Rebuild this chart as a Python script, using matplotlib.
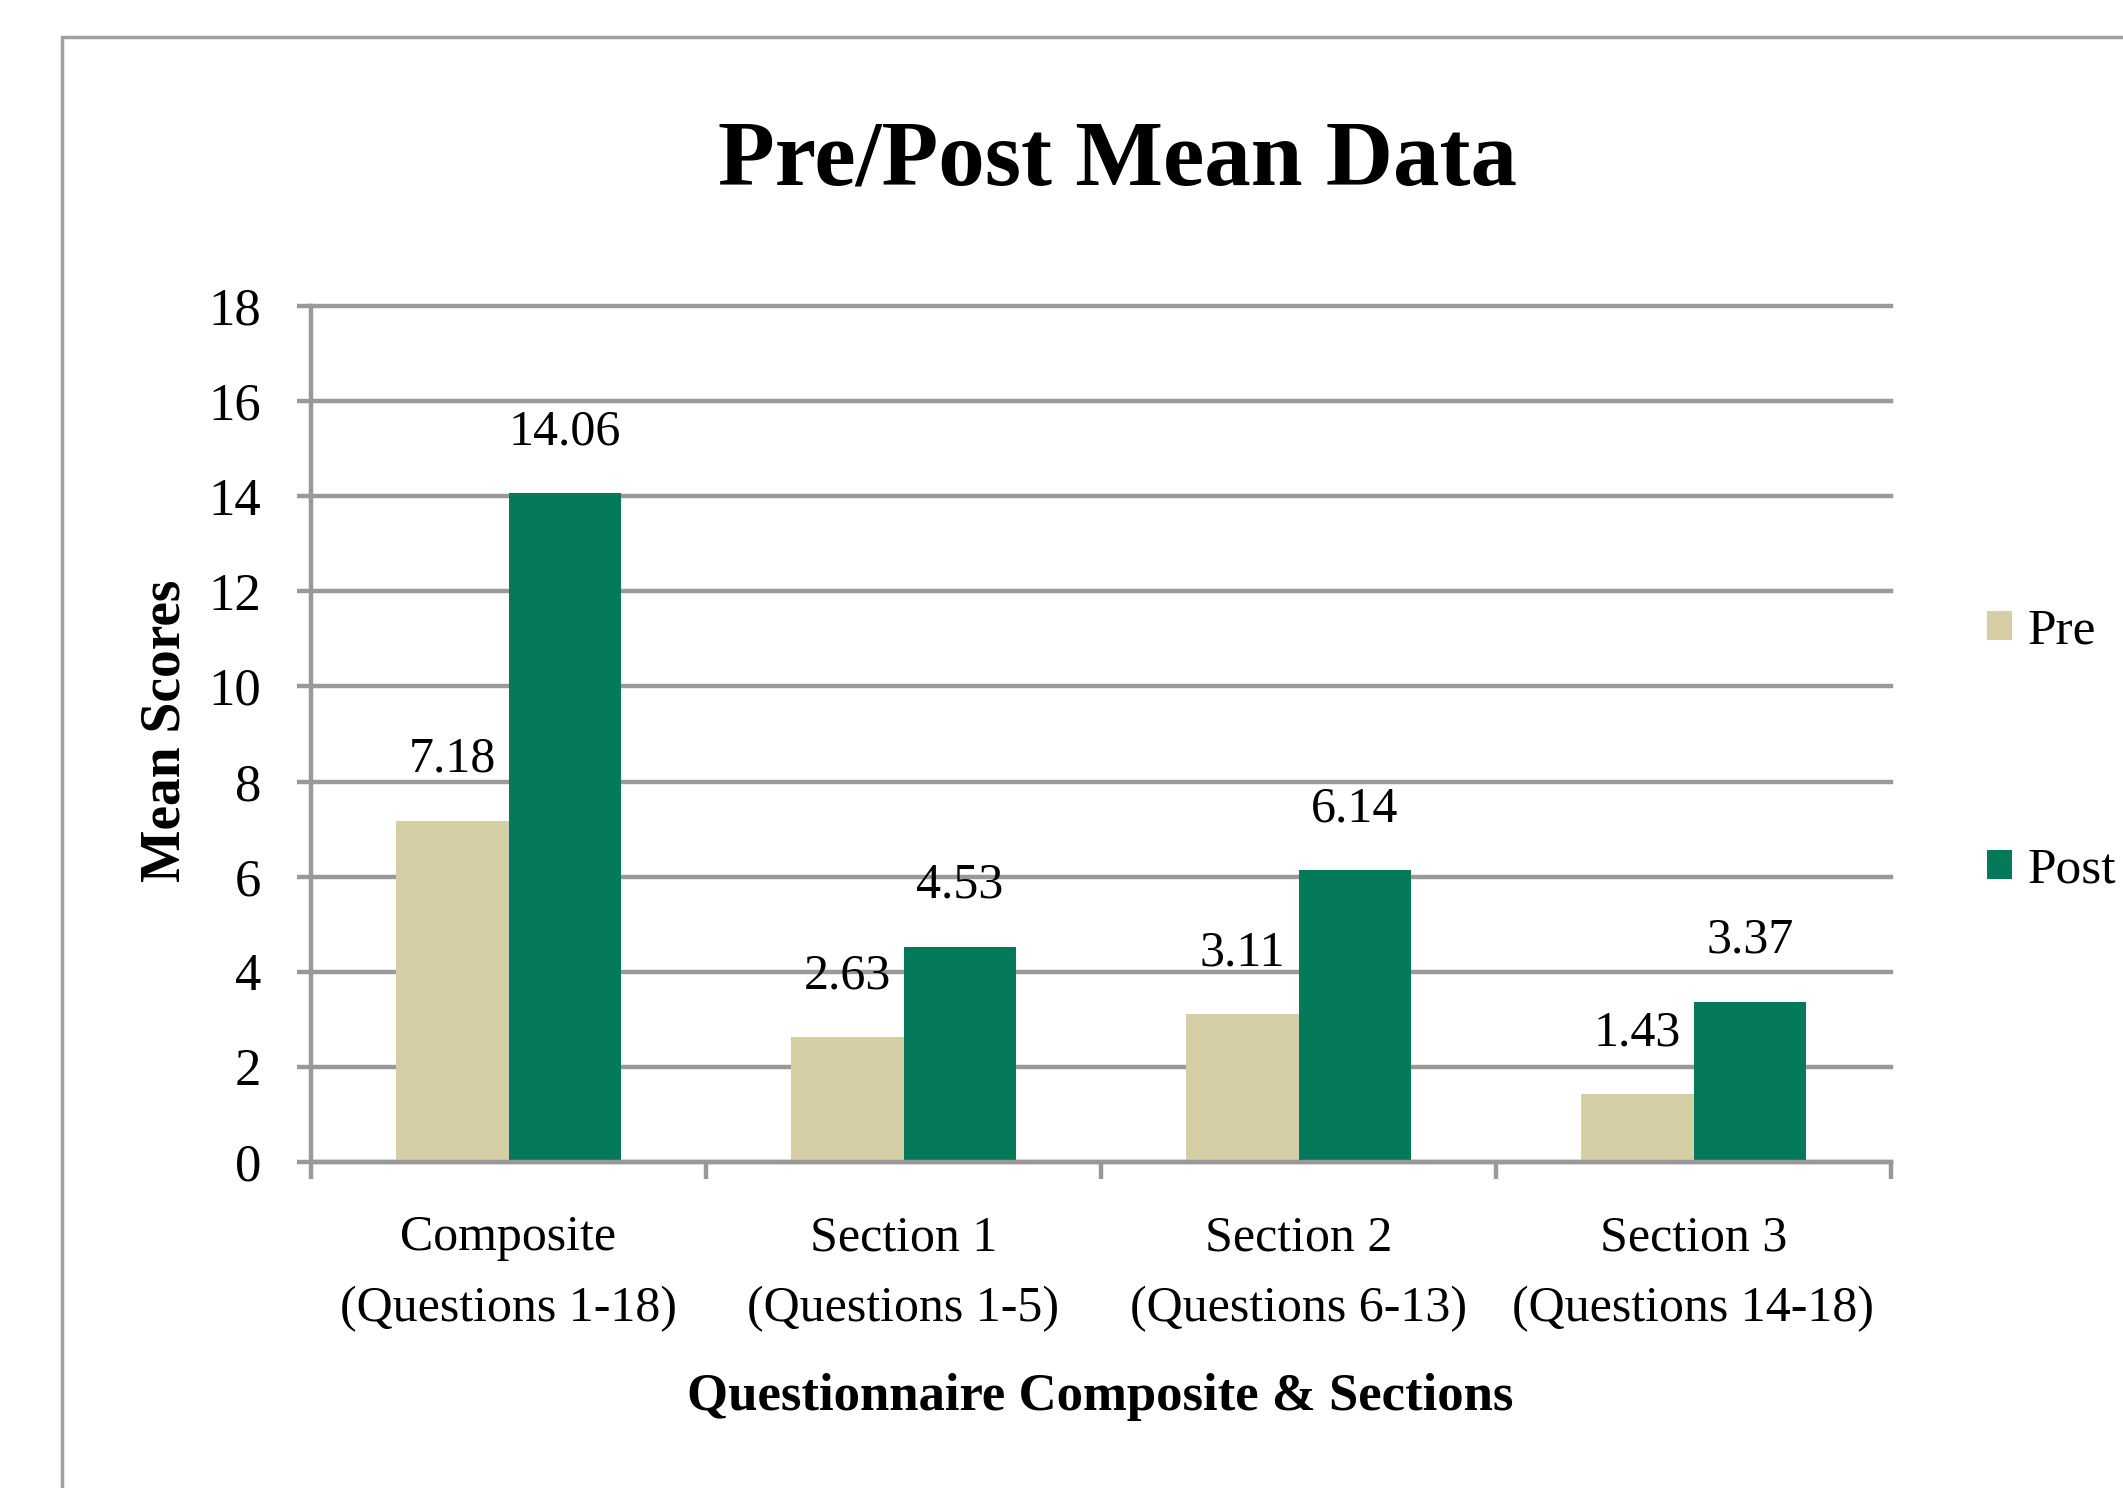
import matplotlib
matplotlib.use("Agg")
import matplotlib.pyplot as plt
import matplotlib.patches as mpatches
import numpy as np

plt.rcParams['font.family'] = ['Liberation Serif', 'DejaVu Serif']

categories = ["Composite\n(Questions 1-18)", "Section 1\n(Questions 1-5)",
              "Section 2\n(Questions 6-13)", "Section 3\n(Questions 14-18)"]
pre = [7.18, 2.63, 3.11, 1.43]
post = [14.06, 4.53, 6.14, 3.37]
yticks = [0, 2, 4, 6, 8, 10, 12, 14, 16, 18]

pre_color = "#D6CFA5"
post_color = "#047A5A"
grid_color = "#999999"

W, H = 2123, 1488
fig = plt.figure(figsize=(W / 100, H / 100), dpi=100)
ax = fig.add_axes([311 / W, 1 - 1162 / H, (1891 - 311) / W, (1162 - 306) / H])

x = np.arange(len(categories))
bw = 0.286
b1 = ax.bar(x - bw / 2, pre, bw, color=pre_color, label="Pre", zorder=3)
b2 = ax.bar(x + bw / 2, post, bw, color=post_color, label="Post", zorder=3)

# value labels above bars
for bars, vals in [(b1, pre), (b2, post)]:
    for r, v in zip(bars, vals):
        ax.annotate(f"{v:.2f}", (r.get_x() + r.get_width() / 2, v),
                    xytext=(0, 44), textcoords="offset points",
                    ha="center", va="center", fontsize=36)

ax.set_xlim(-0.5, len(categories) - 0.5)
ax.set_ylim(0, 18)
ax.set_yticks(yticks)
ax.set_yticklabels([str(t) for t in yticks], fontsize=38)
ax.set_xticks(x)
ax.set_xticklabels(categories, fontsize=36, linespacing=1.7)
ax.set_xticks(np.arange(-0.5, len(categories)), minor=True)

ax.yaxis.grid(True, color=grid_color, linewidth=3.2)
for gl in ax.get_ygridlines():
    gl.set_clip_on(False)
ax.set_axisbelow(True)
for s in ["top", "right"]:
    ax.spines[s].set_visible(False)
for s in ["left", "bottom"]:
    ax.spines[s].set_color(grid_color)
    ax.spines[s].set_linewidth(3.2)
    ax.spines[s].set_zorder(4)

ax.tick_params(axis="y", length=10, width=3.2, color=grid_color, pad=26)
ax.tick_params(axis="x", which="major", length=0, pad=38)
ax.tick_params(axis="x", which="minor", length=12, width=3.2, color=grid_color)

fig.text(1118 / W, 1 - 162 / H, "Pre/Post Mean Data", ha="center", va="center",
         fontsize=67, fontweight="bold")
fig.text(165 / W, 1 - 731 / H, "Mean Scores", ha="center", va="center",
         rotation=90, fontsize=40, fontweight="bold")
fig.text(1100 / W, 1 - 1397 / H, "Questionnaire Composite & Sections",
         ha="center", va="center", fontsize=38, fontweight="bold")

ax.legend(loc="center left", bbox_to_anchor=(1966 / W, 1 - 751 / H),
          bbox_transform=fig.transFigure, frameon=False, fontsize=37,
          handlelength=0.5, handleheight=0.5, handletextpad=0.3,
          labelspacing=3.75, borderaxespad=0)

# outer chart border
fig.add_artist(mpatches.Rectangle((62 / W, -0.1), 2, 1 - 37 / H + 0.1,
                                  transform=fig.transFigure, fill=False,
                                  edgecolor="#a0a0a0", linewidth=2.5))

fig.savefig("out.png", dpi=100)
